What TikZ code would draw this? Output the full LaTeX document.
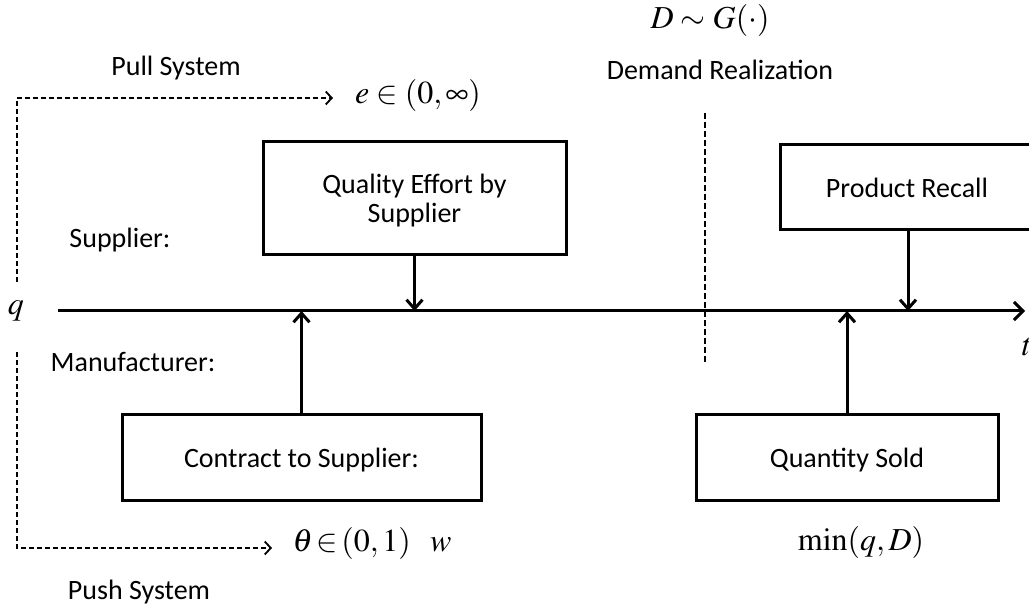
\documentclass[tikz,border=0pt]{standalone}
\usepackage{mathptmx}
\usepackage[no-math]{fontspec}
\newfontfamily\calibri{Carlito}
\usetikzlibrary{arrows.meta}

\tikzset{
  stagebox/.style={draw, line width=1.5pt, align=center, inner sep=0pt,
    text depth=0pt, font=\calibri\fontsize{14}{14.5}\selectfont},
  lbl/.style={inner sep=0pt, font=\calibri\fontsize{14}{16}\selectfont},
  mth/.style={inner sep=0pt, font=\fontsize{16}{18}\selectfont},
  timeaxis/.style={line width=1.5pt, -{Straight Barb[length=4.5pt,width=9pt]}},
  arr/.style={line width=1.5pt, -{Straight Barb[length=4.5pt,width=8pt]}},
  flow/.style={line width=0.9pt, dash pattern=on 2.5pt off 1.5pt,
    -{Straight Barb[length=3pt,width=6.5pt]}},
  divider/.style={line width=0.9pt, dash pattern=on 3pt off 1.5pt},
}

\begin{document}
\begin{tikzpicture}[x=0.5pt, y=-0.5pt]
  \useasboundingbox (0,0) rectangle (1029,609);
  \clip (0,0) rectangle (1029,609);

  % time axis
  \coordinate (t0) at (58,311);
  \coordinate (t1) at (1025,311);
  \draw[timeaxis] (t0) -- (t1);
  \node[mth] (q) at (16,311) {$q$};
  \node[mth] (t) at (1027,347) {$t$};

  % demand realization
  \node[mth] (dist) at (710,21) {$D\sim G(\cdot)$};
  \node[lbl] (demand) at (720,70) {Demand Realization};
  \coordinate (d0) at (705,113);
  \coordinate (d1) at (705,365);
  \draw[divider] (d0) -- (d1);

  % parties
  \node[lbl] (supplier) at (120,240) {Supplier:};
  \node[lbl] (manuf) at (133,362) {Manufacturer:};

  % pull system
  \node[lbl] (pull) at (176,68) {Pull System};
  \coordinate (pullstart) at (17,282);
  \coordinate (pullend) at (333,98);
  \draw[flow] (pullstart) |- (pullend);
  \node[mth] (effort) at (418,96) {$e\in(0,\infty)$};

  % push system
  \node[lbl] (push) at (139,592) {Push System};
  \coordinate (pushstart) at (17,352);
  \coordinate (pushend) at (272,548);
  \draw[flow] (pushstart) |- (pushend);
  \node[mth] (theta) at (372,543) {$\theta\!\in\!(0,1)\ \ w$};

  % stage boxes
  \node[stagebox, minimum width=151.5pt, minimum height=56.5pt] (quality)
    at (414.5,198.5) {Quality Effort by\\Supplier};
  \node[stagebox, minimum width=135pt, minimum height=42.5pt] (recall)
    at (915,187.5) {Product Recall\hspace{8pt}};
  \node[stagebox, minimum width=179.5pt, minimum height=42.5pt] (contract)
    at (301.5,457.5) {Contract to Supplier:};
  \node[stagebox, minimum width=151pt, minimum height=42.5pt] (sold)
    at (847,457.5) {Quantity Sold};
  \node[mth] (minqd) at (861,542) {$\min(q,D)$};

  % arrows onto the time axis
  \draw[arr] (quality.south) -- (quality.south |- t0);
  \draw[arr] ([xshift=-3.5pt]recall.south) coordinate (r0) -- (r0 |- t0);
  \draw[arr] (contract.north) -- (contract.north |- t0);
  \draw[arr] (sold.north) -- (sold.north |- t0);
\end{tikzpicture}
\end{document}
